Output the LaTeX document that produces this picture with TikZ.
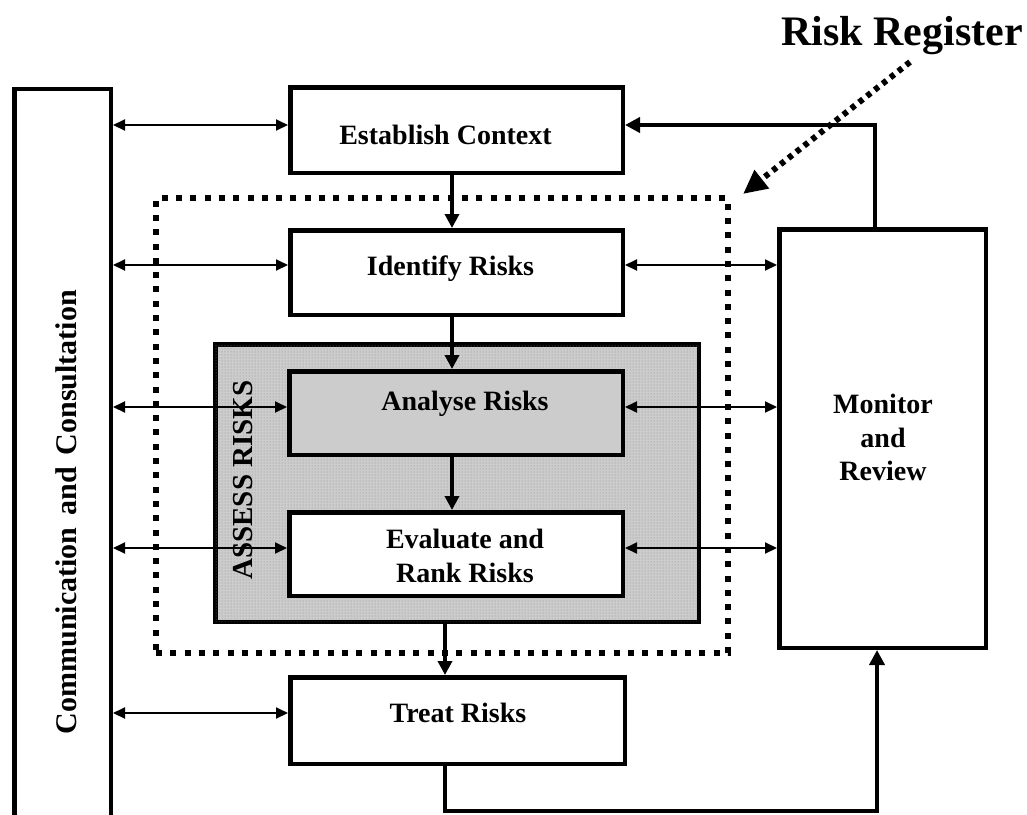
\documentclass[tikz,border=0pt]{standalone}
\usepackage{fontspec}
\setmainfont{Liberation Serif}
\usetikzlibrary{arrows.meta,patterns}
\begin{document}
\begin{tikzpicture}[x=1pt,y=-1pt,
  box/.style={draw=black,line width=4.5pt,fill=white,inner sep=0pt,rectangle},
  lbl/.style={font=\fontsize{28}{34}\selectfont\bfseries,inner sep=0pt,align=center},
  thinarr/.style={line width=2pt,{Triangle[length=12pt,width=11pt]}-{Triangle[length=12pt,width=11pt]}},
  flow/.style={line width=3.5pt,-{Triangle[length=14pt,width=14pt]}},
  flowline/.style={line width=4pt,-{Triangle[length=15pt,width=15pt]}},
  dotbox/.style={draw=black,line width=6pt,dash pattern=on 6pt off 8.3pt,inner sep=0pt,rectangle},
  graybox/.style={box,fill=black!20,postaction={pattern=dots,pattern color=black!45}},
]
\useasboundingbox (0,0) rectangle (1027,814);
\clip (0,0) rectangle (1027,814);
\fill[white] (0,0) rectangle (1027,814);

% dotted risk-register box
\node[dotbox,minimum width=572pt,minimum height=455pt] (regbox) at (442,425.5) {};

% main boxes
\node[box,minimum width=96.5pt,minimum height=738.5pt] (comm) at (62.5,458) {};
\node[box,minimum width=332.5pt,minimum height=85.5pt] (est) at (456.5,130) {};
\node[box,minimum width=332.5pt,minimum height=84.5pt] (ident) at (456.5,272.5) {};
\node[graybox,minimum width=483.5pt,minimum height=277.5pt] (assess) at (457,483) {};
\node[box,fill=black!20,minimum width=333.5pt,minimum height=83.5pt] (analyse) at (456,413) {};
\node[box,minimum width=333.5pt,minimum height=83.5pt] (eval) at (456,554) {};
\node[box,minimum width=334.5pt,minimum height=86.5pt] (treat) at (457.5,720.5) {};
\node[box,minimum width=206.5pt,minimum height=418.5pt] (monitor) at (882.5,438.5) {};

% labels
\node[lbl,anchor=base] (estlbl) at (445.5,144) {Establish Context};
\node[lbl,anchor=base] (identlbl) at (450.5,275) {Identify Risks};
\node[lbl,anchor=base] (analyselbl) at (465,410) {Analyse Risks};
\node[lbl] (evallbl) at (465,555.5) {Evaluate and\\Rank Risks};
\node[lbl,anchor=base] (treatlbl) at (458,722) {Treat Risks};
\node[lbl,font=\fontsize{28}{33.5}\selectfont\bfseries] (monlbl) at (883,437.5) {Monitor\\and\\Review};
\node[lbl,rotate=90,font=\fontsize{30}{36}\selectfont\bfseries] (commlbl) at (66,512) {Communication\hspace{0.4em}and\hspace{0.4em}Consultation};
\node[lbl,rotate=90,font=\fontsize{29}{34}\selectfont\bfseries] (assesslbl) at (243,480) {ASSESS RISKS};
\node[lbl,anchor=base,font=\fontsize{42}{48}\selectfont\bfseries] (riskreg) at (902,45) {Risk Register};

% level coordinates
\coordinate (yE) at (0,125);
\coordinate (yI) at (0,265);
\coordinate (yA) at (0,407);
\coordinate (yV) at (0,548);
\coordinate (yT) at (0,713);
\coordinate (xF) at (452,0);
\coordinate (xT) at (445,0);
\coordinate (bot) at (0,811);
\coordinate (xM) at (877,0);
\coordinate (xM2) at (875,0);

% left two-way arrows
\draw[thinarr] (comm.east |- yE) -- (est.west |- yE);
\draw[thinarr] (comm.east |- yI) -- (ident.west |- yI);
\draw[thinarr] (comm.east |- yA) -- (analyse.west |- yA);
\draw[thinarr] (comm.east |- yV) -- (eval.west |- yV);
\draw[thinarr] (comm.east |- yT) -- (treat.west |- yT);

% right two-way arrows
\draw[thinarr] (ident.east |- yI) -- (monitor.west |- yI);
\draw[thinarr] (analyse.east |- yA) -- (monitor.west |- yA);
\draw[thinarr] (eval.east |- yV) -- (monitor.west |- yV);

% vertical flow
\draw[flow] (est.south -| xF) -- (ident.north -| xF);
\draw[flow] (ident.south -| xF) -- (analyse.north -| xF);
\draw[flow] (analyse.south -| xF) -- (eval.north -| xF);
\draw[flow] (assess.south -| xT) -- (treat.north -| xT);

% loops
\draw[flowline] (treat.south -| xT) -- (xT |- bot) -- (xM |- bot) -- (monitor.south -| xM);
\draw[flowline] (monitor.north -| xM2) -- (xM2 |- yE) -- (est.east |- yE);

% risk register pointer
\coordinate (rrs) at (910,62);
\coordinate (rre) at (743,194);
\draw[line width=6pt,dash pattern=on 5pt off 5pt,-{Triangle[length=24pt,width=22pt]}] (rrs) -- (rre);
\end{tikzpicture}
\end{document}
